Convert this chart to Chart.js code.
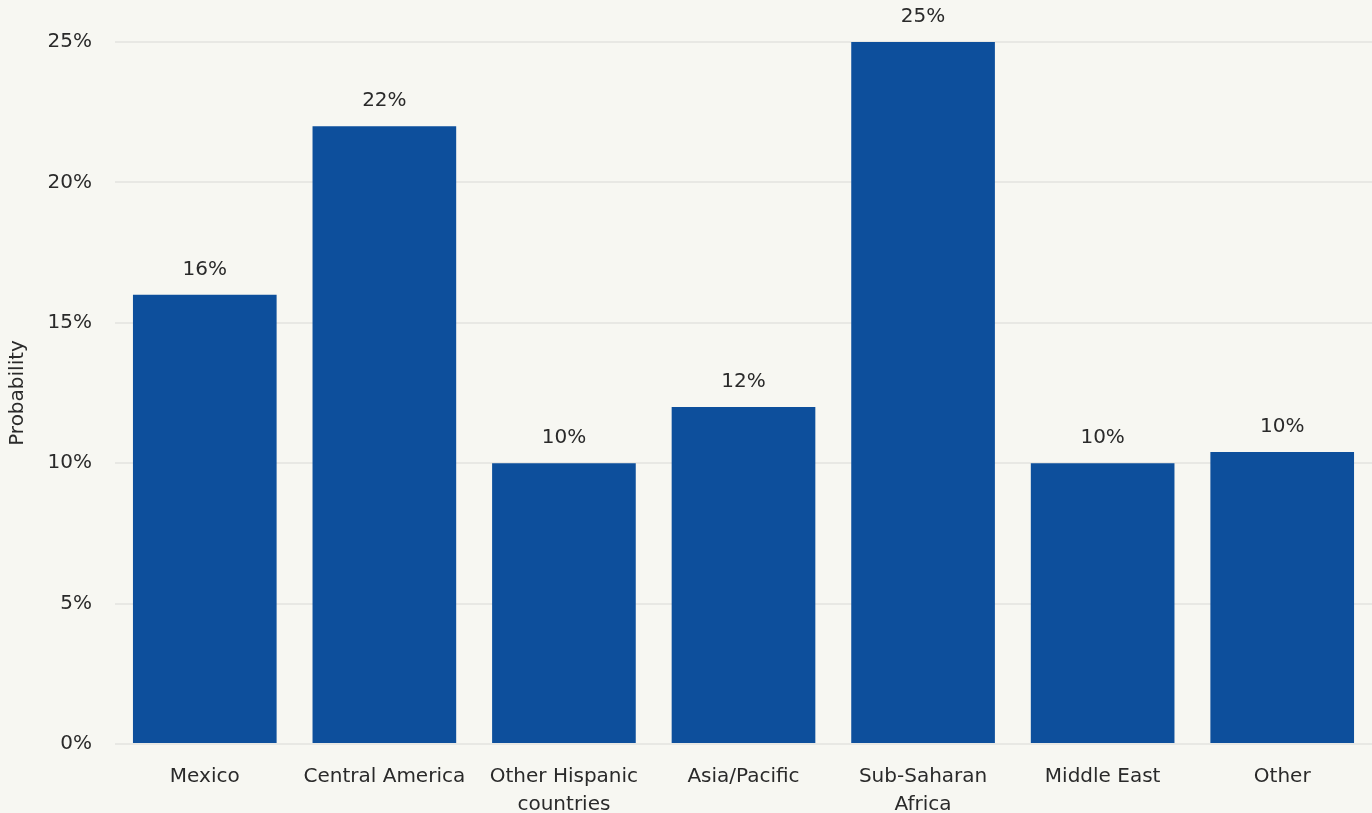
<!DOCTYPE html>
<html>
<head>
<meta charset="utf-8">
<script src="https://cdn.jsdelivr.net/npm/chart.js@4/dist/chart.umd.min.js"></script>
<style>
  html, body { margin: 0; padding: 0; background: #f7f7f2; }
  #wrap { width: 1372px; height: 813px; }
</style>
</head>
<body>
<div id="wrap"><canvas id="c" width="1372" height="813"></canvas></div>
<script>
// Region names (multi-line where the label wraps)
const regions = [
  'Mexico',
  'Central America',
  ['Other Hispanic', 'countries'],
  'Asia/Pacific',
  ['Sub-Saharan', 'Africa'],
  'Middle East',
  'Other'
];
// Probability, in percent
const probability = [16, 22, 10, 12, 25, 10, 10.4];
// Y-axis tick values
const yTicks = [0, 5, 10, 15, 20, 25];

const FONT = "'DejaVu Sans', 'Open Sans', sans-serif";
const TEXT = '#2a2a2a';

// Writes each bar's rounded value above it
const barValueLabels = {
  id: 'barValueLabels',
  afterDatasetsDraw(chart) {
    const ctx = chart.ctx;
    const meta = chart.getDatasetMeta(0);
    ctx.save();
    ctx.font = '20px ' + FONT;
    ctx.fillStyle = TEXT;
    ctx.textAlign = 'center';
    ctx.textBaseline = 'middle';
    meta.data.forEach((bar, i) => {
      ctx.fillText(Math.round(probability[i]) + '%', bar.x, bar.y - 25);
    });
    ctx.restore();
  }
};

new Chart(document.getElementById('c'), {
  type: 'bar',
  data: {
    labels: regions,
    datasets: [{
      data: probability,
      backgroundColor: '#0d4f9c',
      borderWidth: 0,
      barPercentage: 0.8,
      categoryPercentage: 1.0
    }]
  },
  options: {
    responsive: false,
    animation: false,
    layout: { padding: { top: 42, right: 0, bottom: 0, left: 0 } },
    plugins: {
      legend: { display: false },
      tooltip: { enabled: false }
    },
    scales: {
      x: {
        grid: { display: false, drawTicks: false },
        border: { display: false },
        ticks: {
          color: TEXT,
          font: { family: FONT, size: 20, lineHeight: 1.4 },
          padding: 19,
          maxRotation: 0,
          autoSkip: false
        },
        afterFit(scale) { scale.height = 69; }
      },
      y: {
        min: 0,
        max: 25,
        afterBuildTicks(scale) { scale.ticks = yTicks.map(v => ({ value: v })); },
        grid: { color: '#e8e8e4', lineWidth: 2, drawTicks: false },
        border: { display: false },
        ticks: {
          color: TEXT,
          font: { family: FONT, size: 20 },
          padding: 23,
          callback: v => v + '%'
        },
        title: {
          display: true,
          text: 'Probability',
          color: TEXT,
          font: { family: FONT, size: 20 },
          padding: { top: 6, bottom: 0 }
        },
        afterFit(scale) { scale.width = 115; }
      }
    }
  },
  plugins: [barValueLabels]
});
</script>
</body>
</html>
